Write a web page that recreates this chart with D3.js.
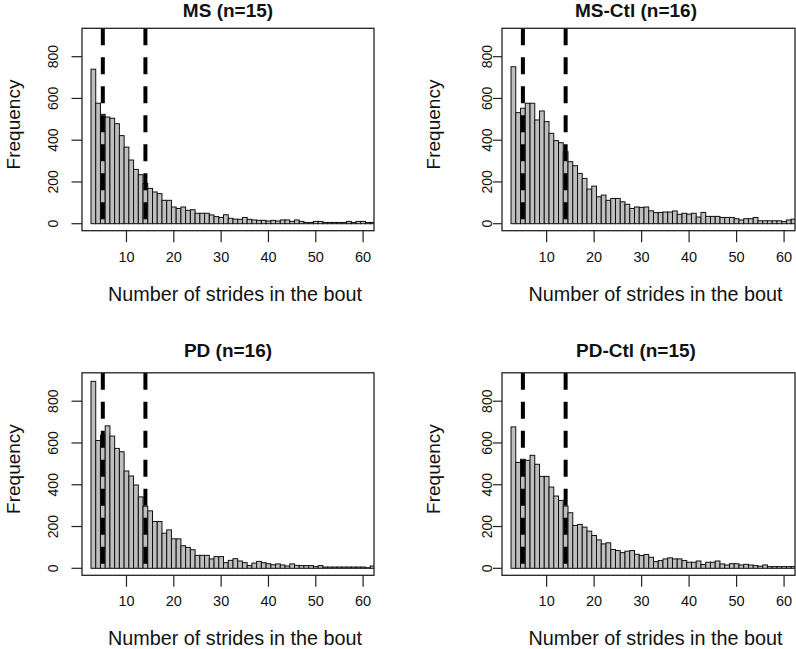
<!DOCTYPE html>
<html><head><meta charset="utf-8">
<script src="https://cdn.jsdelivr.net/npm/d3@7/dist/d3.min.js"></script>
<style>
html,body{margin:0;padding:0;background:#fff;}
svg{display:block;font-family:"Liberation Sans",Arial,sans-serif;}
</style></head>
<body><svg id="chart" width="796" height="649"></svg>
<script>
// ---- data ----
const strideBins = [3,4,5,6,7,8,9,10,11,12,13,14,15,16,17,18,19,20,21,22,23,24,25,26,27,28,29,30,31,32,
  33,34,35,36,37,38,39,40,41,42,43,44,45,46,47,48,49,50,51,52,53,54,55,56,57,58,59,60,61,62];
const panelTitles = ["MS (n=15)", "MS-Ctl (n=16)", "PD (n=16)", "PD-Ctl (n=15)"];
const msValues = [740,577,524,511,505,479,422,367,305,260,235,193,169,152,144,112,112,80,73,80,
  64,67,50,50,50,42,34,30,43,26,22,21,30,21,18,16,16,13,16,13,18,18,11,18,11,6,6,11,11,6,
  6,6,6,6,11,6,11,11,6,6];
const msCtlValues = [752,532,553,577,577,497,540,489,433,398,388,345,297,278,241,217,166,180,129,137,
  112,121,121,105,93,73,80,78,80,62,53,54,56,56,61,45,50,46,50,32,54,35,35,35,30,30,30,24,18,24,
  24,30,14,14,14,14,14,10,18,22];
const pdValues = [895,612,637,682,633,574,558,466,442,399,342,297,275,224,224,168,184,141,141,108,
  100,89,62,62,62,45,56,56,27,38,46,35,27,13,25,33,27,22,17,21,16,11,21,14,13,13,13,8,13,6,
  6,6,6,6,6,6,6,6,3,11];
const pdCtlValues = [677,507,522,517,541,498,440,440,389,346,325,298,266,205,210,197,178,157,136,117,
  122,90,85,75,82,85,67,61,66,53,32,37,45,50,45,45,37,29,29,35,18,29,29,35,21,16,22,22,16,19,
  16,13,10,16,8,8,8,8,8,8];
const seriesList = [msValues, msCtlValues, pdValues, pdCtlValues];
const cutoffs = [5, 14];
const yTicks = [0, 200, 400, 600, 800];
const xTicks = [10, 20, 30, 40, 50, 60];
const xLabel = "Number of strides in the bout";
const yLabel = "Frequency";

// ---- layout ----
const layouts = [
  {x0: 82,  x1: 374, y0: 28.3, y1: 230.7, titleX: 228, titleY: 17, ytl: 53,  ytitle: 13,  ytick0: 71.5},
  {x0: 502, x1: 795, y0: 28.3, y1: 230.7, titleX: 636, titleY: 17, ytl: 487, ytitle: 433, ytick0: 493},
  {x0: 82,  x1: 374, y0: 372.8, y1: 575.3, titleX: 228, titleY: 357, ytl: 53,  ytitle: 13,  ytick0: 71.5},
  {x0: 502, x1: 795, y0: 372.8, y1: 575.3, titleX: 636, titleY: 357, ytl: 487, ytitle: 433, ytick0: 493}
];

const svg = d3.select("#chart");
const defs = svg.append("defs");

layouts.forEach((L, i) => {
  const values = seriesList[i];
  const x = d3.scaleLinear().domain([0.6, 62.3]).range([L.x0, L.x1]);
  const y = d3.scaleLinear().domain([-33.5, 936]).range([L.y1, L.y0]);
  const g = svg.append("g");

  defs.append("clipPath").attr("id", "clip" + i)
    .append("rect").attr("x", L.x0).attr("y", L.y0)
    .attr("width", L.x1 - L.x0).attr("height", L.y1 - L.y0);

  const plot = g.append("g").attr("clip-path", `url(#clip${i})`);
  plot.selectAll("rect.bar").data(strideBins.map((b, k) => ({b, v: values[k]})))
    .join("rect").attr("class", "bar")
    .attr("x", d => x(d.b - 0.5))
    .attr("width", d => x(d.b + 0.5) - x(d.b - 0.5))
    .attr("y", d => y(d.v))
    .attr("height", d => y(0) - y(d.v))
    .attr("fill", "#bebebe").attr("stroke", "#111").attr("stroke-width", 1);

  plot.selectAll("line.cut").data(cutoffs).join("line").attr("class", "cut")
    .attr("x1", d => x(d)).attr("x2", d => x(d))
    .attr("y1", L.y0).attr("y2", L.y1)
    .attr("stroke", "#000").attr("stroke-width", 4)
    .attr("stroke-dasharray", "17,12");

  // box
  g.append("rect").attr("x", L.x0).attr("y", L.y0)
    .attr("width", L.x1 - L.x0).attr("height", L.y1 - L.y0)
    .attr("fill", "none").attr("stroke", "#222").attr("stroke-width", 1.3);

  // y axis ticks
  g.selectAll("line.yt").data(yTicks).join("line").attr("class", "yt")
    .attr("x1", L.ytick0).attr("x2", L.x0)
    .attr("y1", d => y(d)).attr("y2", d => y(d))
    .attr("stroke", "#222").attr("stroke-width", 1.2);
  g.selectAll("text.ytl").data(yTicks).join("text").attr("class", "ytl")
    .attr("transform", d => `translate(${L.ytl + 5},${y(d)}) rotate(-90)`)
    .attr("text-anchor", "middle")
    .attr("font-size", 14).attr("fill", "#111")
    .text(d => d);

  // x axis ticks
  g.selectAll("line.xt").data(xTicks).join("line").attr("class", "xt")
    .attr("x1", d => x(d)).attr("x2", d => x(d))
    .attr("y1", L.y1).attr("y2", L.y1 + 11.5)
    .attr("stroke", "#222").attr("stroke-width", 1.2);
  g.selectAll("text.xtl").data(xTicks).join("text").attr("class", "xtl")
    .attr("x", d => x(d)).attr("y", L.y1 + 31)
    .attr("text-anchor", "middle")
    .attr("font-size", 14.5).attr("fill", "#111")
    .text(d => d);

  // titles
  g.append("text").attr("x", L.titleX).attr("y", L.titleY)
    .attr("text-anchor", "middle").attr("font-weight", "bold")
    .attr("font-size", 19).attr("fill", "#111").text(panelTitles[i]);
  g.append("text").attr("x", (L.x0 + L.x1) / 2 + 7).attr("y", L.y1 + 70)
    .attr("text-anchor", "middle")
    .attr("font-size", 19.8).attr("fill", "#111").text(xLabel);
  g.append("text")
    .attr("transform", `translate(${L.ytitle + 7},${(L.y0 + L.y1) / 2 - 5}) rotate(-90)`)
    .attr("text-anchor", "middle")
    .attr("font-size", 19).attr("fill", "#111").text(yLabel);
});
</script></body></html>
